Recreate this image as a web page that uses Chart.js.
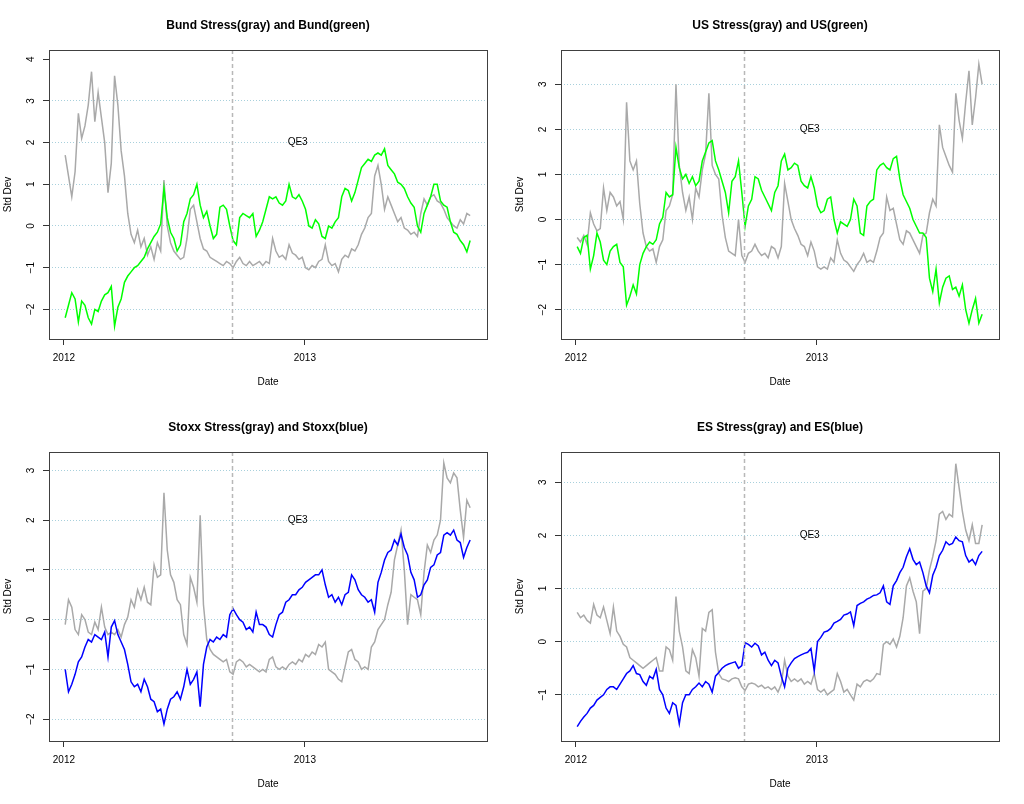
<!DOCTYPE html>
<html><head><meta charset="utf-8">
<script src="https://cdn.jsdelivr.net/npm/chart.js@4/dist/chart.umd.min.js"></script>
<style>
html,body{margin:0;padding:0;background:#fff;}
#wrap{position:relative;width:1024px;height:804px;background:#fff;}
canvas{position:absolute;}
</style></head><body>
<div id="wrap">
<canvas id="c1" width="512" height="402" style="left:0;top:0"></canvas>
<canvas id="c2" width="512" height="402" style="left:512px;top:0"></canvas>
<canvas id="c3" width="512" height="402" style="left:0;top:402px"></canvas>
<canvas id="c4" width="512" height="402" style="left:512px;top:402px"></canvas>
</div>
<script>
// days since 2012-01-01
const days = [2,7,12,17,22,27,32,37,42,47,
52,57,62,67,72,77,82,87,92,97,
102,107,112,117,122,127,132,137,142,147,
152,157,162,167,172,177,182,187,192,197,
202,207,212,217,222,227,232,237,242,247,
252,257,262,267,272,277,282,287,292,297,
302,307,312,317,322,327,332,337,342,347,
352,357,362,367,372,377,382,387,392,397,
402,407,412,417,422,427,432,437,442,447,
452,457,462,467,472,477,482,487,492,497,
502,507,512,517,522,527,532,537,542,547,
552,557,562,567,572,577,582,587,592,597,
602,607,612,617];

const bundStress = [1.7,1.2,0.7,1.3,2.7,2.1,2.4,2.9,3.7,2.5,
3.2,2.6,2.0,0.8,1.5,3.6,2.9,1.8,1.2,0.3,
-0.2,-0.4,-0.1,-0.5,-0.3,-0.7,-0.5,-0.8,-0.4,-0.6,
1.1,0.0,-0.4,-0.6,-0.7,-0.8,-0.75,-0.3,0.4,0.5,
0.1,-0.3,-0.55,-0.6,-0.75,-0.8,-0.85,-0.9,-0.95,-0.85,
-0.9,-1.0,-0.85,-0.75,-0.9,-0.95,-0.85,-0.95,-0.9,-0.85,
-0.95,-0.85,-0.9,-0.3,-0.6,-0.75,-0.7,-0.8,-0.45,-0.65,
-0.7,-0.8,-0.75,-1.0,-1.05,-0.95,-1.0,-0.85,-0.8,-0.45,
-0.85,-0.95,-0.9,-1.1,-0.8,-0.7,-0.75,-0.55,-0.6,-0.45,
-0.2,-0.05,0.2,0.3,1.2,1.45,1.0,0.4,0.7,0.5,
0.3,0.1,0.2,-0.05,-0.1,-0.2,-0.15,-0.25,0.3,0.65,
0.5,0.7,0.75,0.6,0.55,0.4,0.2,0.1,0.0,-0.05,
0.15,0.05,0.3,0.25];

const bund = [-2.2,-1.9,-1.6,-1.75,-2.3,-1.8,-1.9,-2.2,-2.35,-2.0,
-2.05,-1.8,-1.65,-1.6,-1.45,-2.4,-1.95,-1.75,-1.35,-1.2,
-1.1,-1.0,-0.95,-0.85,-0.75,-0.55,-0.4,-0.25,-0.15,0.05,
0.9,0.2,-0.15,-0.3,-0.6,-0.45,0.1,0.3,0.65,0.75,
1.0,0.5,0.2,0.35,0.0,-0.3,-0.2,0.45,0.5,0.4,
0.0,-0.35,-0.45,0.2,0.3,0.25,0.2,0.3,-0.25,-0.1,
0.1,0.4,0.7,0.65,0.7,0.55,0.5,0.6,1.0,0.7,
0.65,0.75,0.6,0.4,0.0,-0.05,0.15,0.05,-0.25,-0.3,
0.0,-0.05,0.1,0.2,0.7,0.9,0.85,0.6,0.8,1.1,
1.4,1.5,1.6,1.55,1.7,1.75,1.7,1.85,1.45,1.35,
1.25,1.05,1.0,0.9,0.7,0.55,0.45,0.0,-0.15,0.3,
0.5,0.7,1.0,1.0,0.6,0.5,0.45,0.1,-0.15,-0.2,
-0.35,-0.45,-0.62,-0.35];

const usStress = [-0.4,-0.5,-0.35,-0.55,0.15,-0.1,-0.25,-0.2,0.7,0.2,
0.6,0.5,0.3,0.4,0.0,2.6,1.3,1.1,1.3,0.35,
-0.3,-0.6,-0.7,-0.65,-0.95,-0.6,-0.45,0.2,0.3,0.55,
3.0,1.2,0.6,0.2,0.5,0.0,0.7,0.5,1.1,1.45,
2.8,1.2,1.0,0.9,0.1,-0.4,-0.7,-0.75,-0.8,0.0,
-0.8,-0.95,-0.75,-0.7,-0.55,-0.7,-0.8,-0.75,-0.85,-0.6,
-0.65,-0.85,-0.6,0.8,0.4,0.0,-0.2,-0.35,-0.55,-0.6,
-0.8,-0.5,-0.7,-1.05,-1.1,-1.05,-1.1,-0.85,-0.95,-0.45,
-0.75,-0.9,-0.95,-1.05,-1.15,-1.0,-0.9,-0.75,-0.95,-0.9,
-0.95,-0.7,-0.4,-0.3,0.5,0.2,0.25,-0.1,-0.45,-0.55,
-0.25,-0.3,-0.45,-0.6,-0.75,-0.35,-0.3,0.15,0.45,0.3,
2.1,1.6,1.4,1.2,1.05,2.8,2.2,1.8,2.6,3.3,
2.1,2.7,3.45,3.0];

const us = [-0.6,-0.75,-0.4,-0.35,-1.1,-0.8,-0.3,-0.5,-0.9,-1.0,
-0.7,-0.6,-0.55,-0.95,-1.05,-1.9,-1.7,-1.45,-1.65,-1.0,
-0.75,-0.6,-0.5,-0.55,-0.45,-0.1,0.05,0.6,0.5,0.55,
1.6,1.15,0.9,1.0,0.8,0.95,0.75,0.85,1.3,1.5,
1.7,1.75,1.3,1.1,0.85,0.6,0.15,0.85,0.95,1.3,
0.6,-0.15,0.3,0.45,0.95,0.9,0.65,0.5,0.35,0.2,
0.6,0.75,1.3,1.45,1.1,1.15,1.25,1.2,0.85,0.75,
0.7,0.95,0.7,0.3,0.15,0.2,0.45,0.5,0.0,-0.3,
-0.05,-0.1,-0.15,0.0,0.45,0.3,-0.3,-0.35,0.3,0.4,
0.45,1.1,1.2,1.25,1.15,1.1,1.35,1.4,0.9,0.55,
0.4,0.25,0.0,-0.15,-0.3,-0.3,-0.4,-1.3,-1.6,-1.1,
-1.85,-1.5,-1.3,-1.25,-1.55,-1.5,-1.7,-1.45,-2.0,-2.3,
-2.0,-1.75,-2.3,-2.1];

const stoxxStress = [-0.1,0.4,0.25,-0.2,-0.3,0.1,0.0,-0.25,-0.3,-0.05,
-0.2,0.25,-0.15,-0.3,-0.25,-0.3,-0.2,-0.35,-0.1,0.05,
0.4,0.25,0.6,0.4,0.65,0.35,0.3,1.1,0.85,0.9,
2.55,1.4,0.9,0.75,0.4,0.3,-0.3,-0.5,0.85,0.65,
0.35,2.1,0.3,-0.4,-0.6,-0.7,-0.75,-0.8,-0.85,-0.8,
-1.05,-1.1,-0.85,-0.8,-0.85,-0.95,-0.9,-0.95,-1.0,-1.05,
-1.0,-1.05,-0.8,-0.75,-0.95,-1.0,-0.95,-1.0,-0.9,-0.85,
-0.9,-0.8,-0.85,-0.7,-0.75,-0.65,-0.7,-0.5,-0.55,-0.45,
-1.0,-1.05,-1.1,-1.2,-1.25,-0.95,-0.65,-0.6,-0.8,-0.85,
-1.0,-0.95,-1.0,-0.55,-0.45,-0.2,-0.1,0.0,0.3,0.55,
1.2,1.5,1.8,1.0,-0.1,0.5,0.45,0.4,0.1,0.95,
1.5,1.35,1.6,1.7,2.0,3.15,2.85,2.75,2.95,2.85,
2.2,1.65,2.4,2.25];

const stoxx = [-1.0,-1.45,-1.3,-1.1,-0.85,-0.75,-0.55,-0.4,-0.45,-0.3,
-0.35,-0.4,-0.25,-0.75,-0.15,-0.02,-0.3,-0.45,-0.6,-0.9,
-1.25,-1.35,-1.3,-1.45,-1.2,-1.35,-1.6,-1.65,-1.85,-1.8,
-2.1,-1.8,-1.6,-1.55,-1.45,-1.6,-1.35,-1.0,-1.3,-1.2,
-1.05,-1.75,-0.9,-0.55,-0.4,-0.45,-0.35,-0.4,-0.3,-0.35,
0.1,0.22,0.1,0.0,-0.05,-0.2,-0.15,-0.25,0.15,-0.1,
-0.1,-0.15,-0.3,-0.35,-0.1,0.1,0.15,0.35,0.4,0.5,
0.5,0.6,0.65,0.75,0.8,0.85,0.9,0.9,1.0,0.7,
0.45,0.5,0.35,0.45,0.3,0.5,0.55,0.9,0.8,0.6,
0.5,0.45,0.35,0.4,0.15,0.75,0.95,1.2,1.35,1.4,
1.6,1.5,1.72,1.45,1.3,0.95,0.8,0.45,0.5,0.7,
0.8,1.05,1.1,1.3,1.35,1.7,1.75,1.7,1.8,1.6,
1.55,1.25,1.45,1.6];

const esStress = [0.55,0.45,0.5,0.4,0.35,0.7,0.5,0.45,0.65,0.4,
0.15,0.65,0.2,0.1,-0.05,-0.1,-0.3,-0.35,-0.4,-0.45,
-0.5,-0.45,-0.4,-0.35,-0.3,-0.55,-0.55,-0.1,-0.15,-0.35,
0.85,0.2,-0.1,-0.55,-0.6,-0.15,-0.3,-0.65,0.25,0.2,
0.55,0.6,-0.2,-0.6,-0.7,-0.72,-0.75,-0.7,-0.68,-0.7,
-0.85,-0.92,-0.8,-0.78,-0.8,-0.85,-0.82,-0.88,-0.85,-0.9,
-0.85,-0.95,-0.8,-0.35,-0.65,-0.75,-0.7,-0.75,-0.7,-0.8,
-0.75,-0.8,-0.6,-0.9,-0.95,-0.9,-1.0,-0.95,-0.9,-0.6,
-0.75,-0.95,-0.9,-1.0,-1.1,-0.8,-0.85,-0.75,-0.72,-0.75,
-0.7,-0.6,-0.62,-0.05,0.0,-0.05,0.05,-0.1,0.1,0.45,
1.05,1.2,0.95,0.75,0.15,0.95,1.0,1.35,1.6,1.9,
2.4,2.45,2.3,2.4,2.35,3.35,2.9,2.45,2.1,1.9,
2.2,1.85,1.85,2.2];

const es = [-1.6,-1.5,-1.42,-1.35,-1.25,-1.2,-1.1,-1.05,-1.0,-0.9,
-0.85,-0.85,-0.9,-0.8,-0.7,-0.6,-0.55,-0.45,-0.6,-0.62,
-0.75,-0.82,-0.65,-0.7,-0.52,-0.9,-1.0,-1.25,-1.35,-1.15,
-1.2,-1.55,-1.15,-1.0,-1.0,-0.9,-0.85,-0.78,-0.85,-0.75,
-0.8,-0.95,-0.65,-0.58,-0.5,-0.45,-0.42,-0.4,-0.38,-0.5,
-0.45,-0.02,-0.05,-0.1,-0.03,-0.08,-0.25,-0.2,-0.35,-0.45,
-0.35,-0.4,-0.65,-0.85,-0.5,-0.4,-0.32,-0.28,-0.25,-0.22,
-0.2,-0.13,-0.55,0.0,0.08,0.18,0.2,0.25,0.35,0.38,
0.42,0.5,0.52,0.56,0.3,0.68,0.72,0.75,0.8,0.83,
0.87,0.88,0.92,1.05,0.75,0.7,1.05,1.15,1.3,1.4,
1.6,1.75,1.55,1.45,1.5,1.3,1.05,0.92,1.25,1.4,
1.62,1.72,1.88,1.82,1.85,1.97,1.9,1.88,1.62,1.5,
1.55,1.45,1.62,1.7];

const xTickDays = [0, 366];
const xTickLabels = ['2012', '2013'];
const xRange = [-22.6, 642.6];
const qe3Day = 256;
const qe3Label = 'QE3';
const qe3LabelAt = [355, 2];

const titles = ['Bund Stress(gray) and Bund(green)', 'US Stress(gray) and US(green)',
                'Stoxx Stress(gray) and Stoxx(blue)', 'ES Stress(gray) and ES(blue)'];
const yTicksBund = [-2, -1, 0, 1, 2, 3, 4];
const yTicksUS = [-2, -1, 0, 1, 2, 3];
const yTicksStoxx = [-2, -1, 0, 1, 2, 3];
const yTicksES = [-1, 0, 1, 2, 3];
const yGridBund = [-2, -1, 0, 1, 2, 3];
const yRangeBund = [-2.71, 4.22];
const yRangeUS = [-2.65, 3.76];
const yRangeStoxx = [-2.44, 3.37];
const yRangeES = [-1.87, 3.57];

const FONT = '"Liberation Sans", Arial, Helvetica, sans-serif';
Chart.defaults.font.family = FONT;
const GRAY = '#a9a9a9';
const GRID = '#a8d0dc';

const decor = {
  id: 'decor',
  afterDatasetsDraw(chart) {
    const {ctx, chartArea: a, scales: {x, y}} = chart;
    ctx.save();
    const px = Math.round(x.getPixelForValue(qe3Day)) + 0.5;
    ctx.strokeStyle = '#b8b8b8'; ctx.lineWidth = 1.5; ctx.setLineDash([4, 3]);
    ctx.beginPath(); ctx.moveTo(px, a.top); ctx.lineTo(px, a.bottom); ctx.stroke();
    ctx.setLineDash([]);
    ctx.fillStyle = '#000'; ctx.font = '10px ' + FONT;
    ctx.textAlign = 'center'; ctx.textBaseline = 'middle';
    ctx.fillText(qe3Label, x.getPixelForValue(qe3LabelAt[0]), y.getPixelForValue(qe3LabelAt[1]));
    ctx.strokeStyle = '#404040'; ctx.lineWidth = 1;
    ctx.strokeRect(Math.round(a.left) + 0.5, Math.round(a.top) + 0.5,
                   Math.round(a.right - a.left), Math.round(a.bottom - a.top));
    ctx.restore();
  }
};

function makePanel(id, title, main, mainColor, stress, yTicks, yGrid, yRange) {
  new Chart(document.getElementById(id), {
    type: 'line',
    data: {datasets: [
      {data: days.map((d, i) => ({x: d, y: main[i]})), borderColor: mainColor, borderWidth: 1.5, pointRadius: 0, tension: 0},
      {data: days.map((d, i) => ({x: d, y: stress[i]})), borderColor: GRAY, borderWidth: 1.5, pointRadius: 0, tension: 0}
    ]},
    options: {
      responsive: false, animation: false, devicePixelRatio: 1,
      layout: {padding: {left: 0, right: 25, top: 0, bottom: 0}},
      plugins: {
        legend: {display: false}, tooltip: {enabled: false},
        title: {display: true, text: title, fullSize: false, color: '#000',
                font: {size: 12, weight: 'bold'}, padding: {top: 18, bottom: 17.6}}
      },
      scales: {
        x: {
          type: 'linear', min: xRange[0], max: xRange[1],
          afterBuildTicks: s => { s.ticks = xTickDays.map(v => ({value: v})); },
          afterFit: s => { s.height = 63; },
          ticks: {callback: v => { const k = xTickDays.indexOf(v); return k >= 0 ? xTickLabels[k] : ''; },
                  color: '#000', font: {size: 10}, padding: 7, maxRotation: 0, autoSkip: false},
          grid: {drawOnChartArea: false, drawTicks: true, tickLength: 6, tickColor: '#333'},
          border: {display: false},
          title: {display: true, text: 'Date', color: '#000', font: {size: 10}, padding: {top: 0, bottom: 14}}
        },
        y: {
          min: yRange[0], max: yRange[1],
          afterBuildTicks: s => { s.ticks = yTicks.map(v => ({value: v})); },
          afterFit: s => { s.width = 49; },
          ticks: {callback: v => String(v).replace('-', '\u2212'), color: '#000', font: {size: 10},
                  minRotation: 90, maxRotation: 90, crossAlign: 'center', padding: 6, autoSkip: false},
          grid: {color: c => (c.tick && yGrid.includes(c.tick.value)) ? GRID : 'rgba(0,0,0,0)',
                 tickColor: '#333', tickLength: 6, lineWidth: 1},
          border: {display: false, dash: [1, 2]},
          title: {display: true, text: 'Std Dev', color: '#000', font: {size: 10}, padding: {top: 2, bottom: 0}}
        }
      }
    },
    plugins: [decor]
  });
}

makePanel('c1', titles[0], bund, '#00ff00', bundStress, yTicksBund, yGridBund, yRangeBund);
makePanel('c2', titles[1], us, '#00ff00', usStress, yTicksUS, yTicksUS, yRangeUS);
makePanel('c3', titles[2], stoxx, '#0000ff', stoxxStress, yTicksStoxx, yTicksStoxx, yRangeStoxx);
makePanel('c4', titles[3], es, '#0000ff', esStress, yTicksES, yTicksES, yRangeES);
</script>
</body></html>
